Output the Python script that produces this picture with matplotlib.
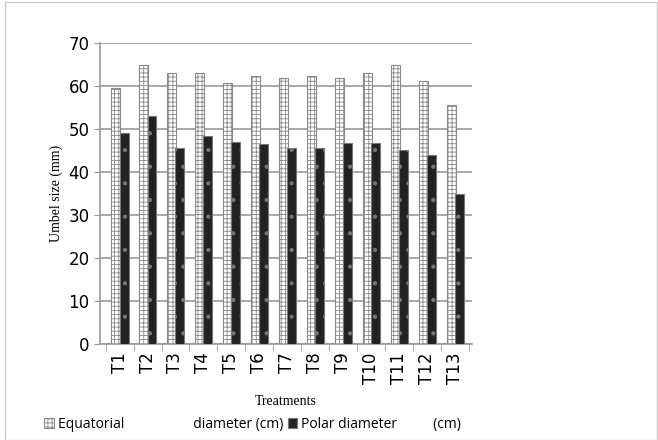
import matplotlib.pyplot as plt
import numpy as np

plt.rcParams['hatch.linewidth'] = 0.6

treatments = ['T1', 'T2', 'T3', 'T4', 'T5', 'T6', 'T7', 'T8', 'T9', 'T10', 'T11', 'T12', 'T13']
equatorial = [59.5, 65.0, 63.0, 63.0, 60.8, 62.3, 62.0, 62.3, 62.0, 63.0, 64.8, 61.3, 55.5]
polar = [49.0, 53.0, 45.7, 48.3, 47.0, 46.5, 45.5, 45.5, 46.7, 46.7, 45.2, 44.0, 35.0]

x = np.arange(1, len(treatments) + 1)

fig = plt.figure(figsize=(6.58, 4.4), dpi=100)
ax = fig.add_axes([0.152, 0.218, 0.565, 0.684])

ax.bar(x - 0.14, equatorial, width=0.32, color='white', edgecolor='#888888',
       hatch='++++', linewidth=0.8, label='Equatorial' + ' ' * 19 + 'diameter (cm)', zorder=3)
ax.bar(x + 0.16, polar, width=0.32, color='#222222', edgecolor='#777777',
       hatch='.', linewidth=0.8, label='Polar diameter' + ' ' * 10 + '(cm)', zorder=3)

ax.set_xlim(0.3, 13.6)
ax.set_ylim(0, 70)
ax.set_yticks(range(0, 71, 10))
ax.set_xticks(x)
ax.set_xticklabels(treatments, rotation=90, fontsize=12)
ax.set_xticks(np.arange(0.5, 14, 1), minor=True)
ax.tick_params(axis='x', which='major', length=0, pad=6)
ax.tick_params(axis='x', which='minor', length=5, color='#999999')
ax.tick_params(axis='y', labelsize=12, length=4, color='#999999')

ax.grid(axis='y', color='#999999', linewidth=1.2, zorder=0)
for side in ['top', 'right']:
    ax.spines[side].set_visible(False)
ax.spines['left'].set_color('#999999')
ax.spines['bottom'].set_color('#999999')
ax.spines['left'].set_linewidth(1.2)
ax.spines['bottom'].set_linewidth(1.2)

ax.set_ylabel('Umbel size (mm)', fontfamily='Liberation Serif', fontsize=10)
ax.set_xlabel('Treatments', fontfamily='Liberation Serif', fontsize=10, labelpad=8)

fig.legend(loc='lower left', bbox_to_anchor=(0.048, -0.01), ncol=2, frameon=False,
           prop={'family': 'Open Sans', 'size': 10}, handlelength=0.7, handleheight=0.7,
           columnspacing=0.3, handletextpad=0.3)

fig.patches.append(plt.Rectangle((0.008, 0.0), 0.99, 0.995, transform=fig.transFigure,
                                 fill=False, edgecolor='#cccccc', linewidth=1))

fig.savefig('out.png', dpi=100)
